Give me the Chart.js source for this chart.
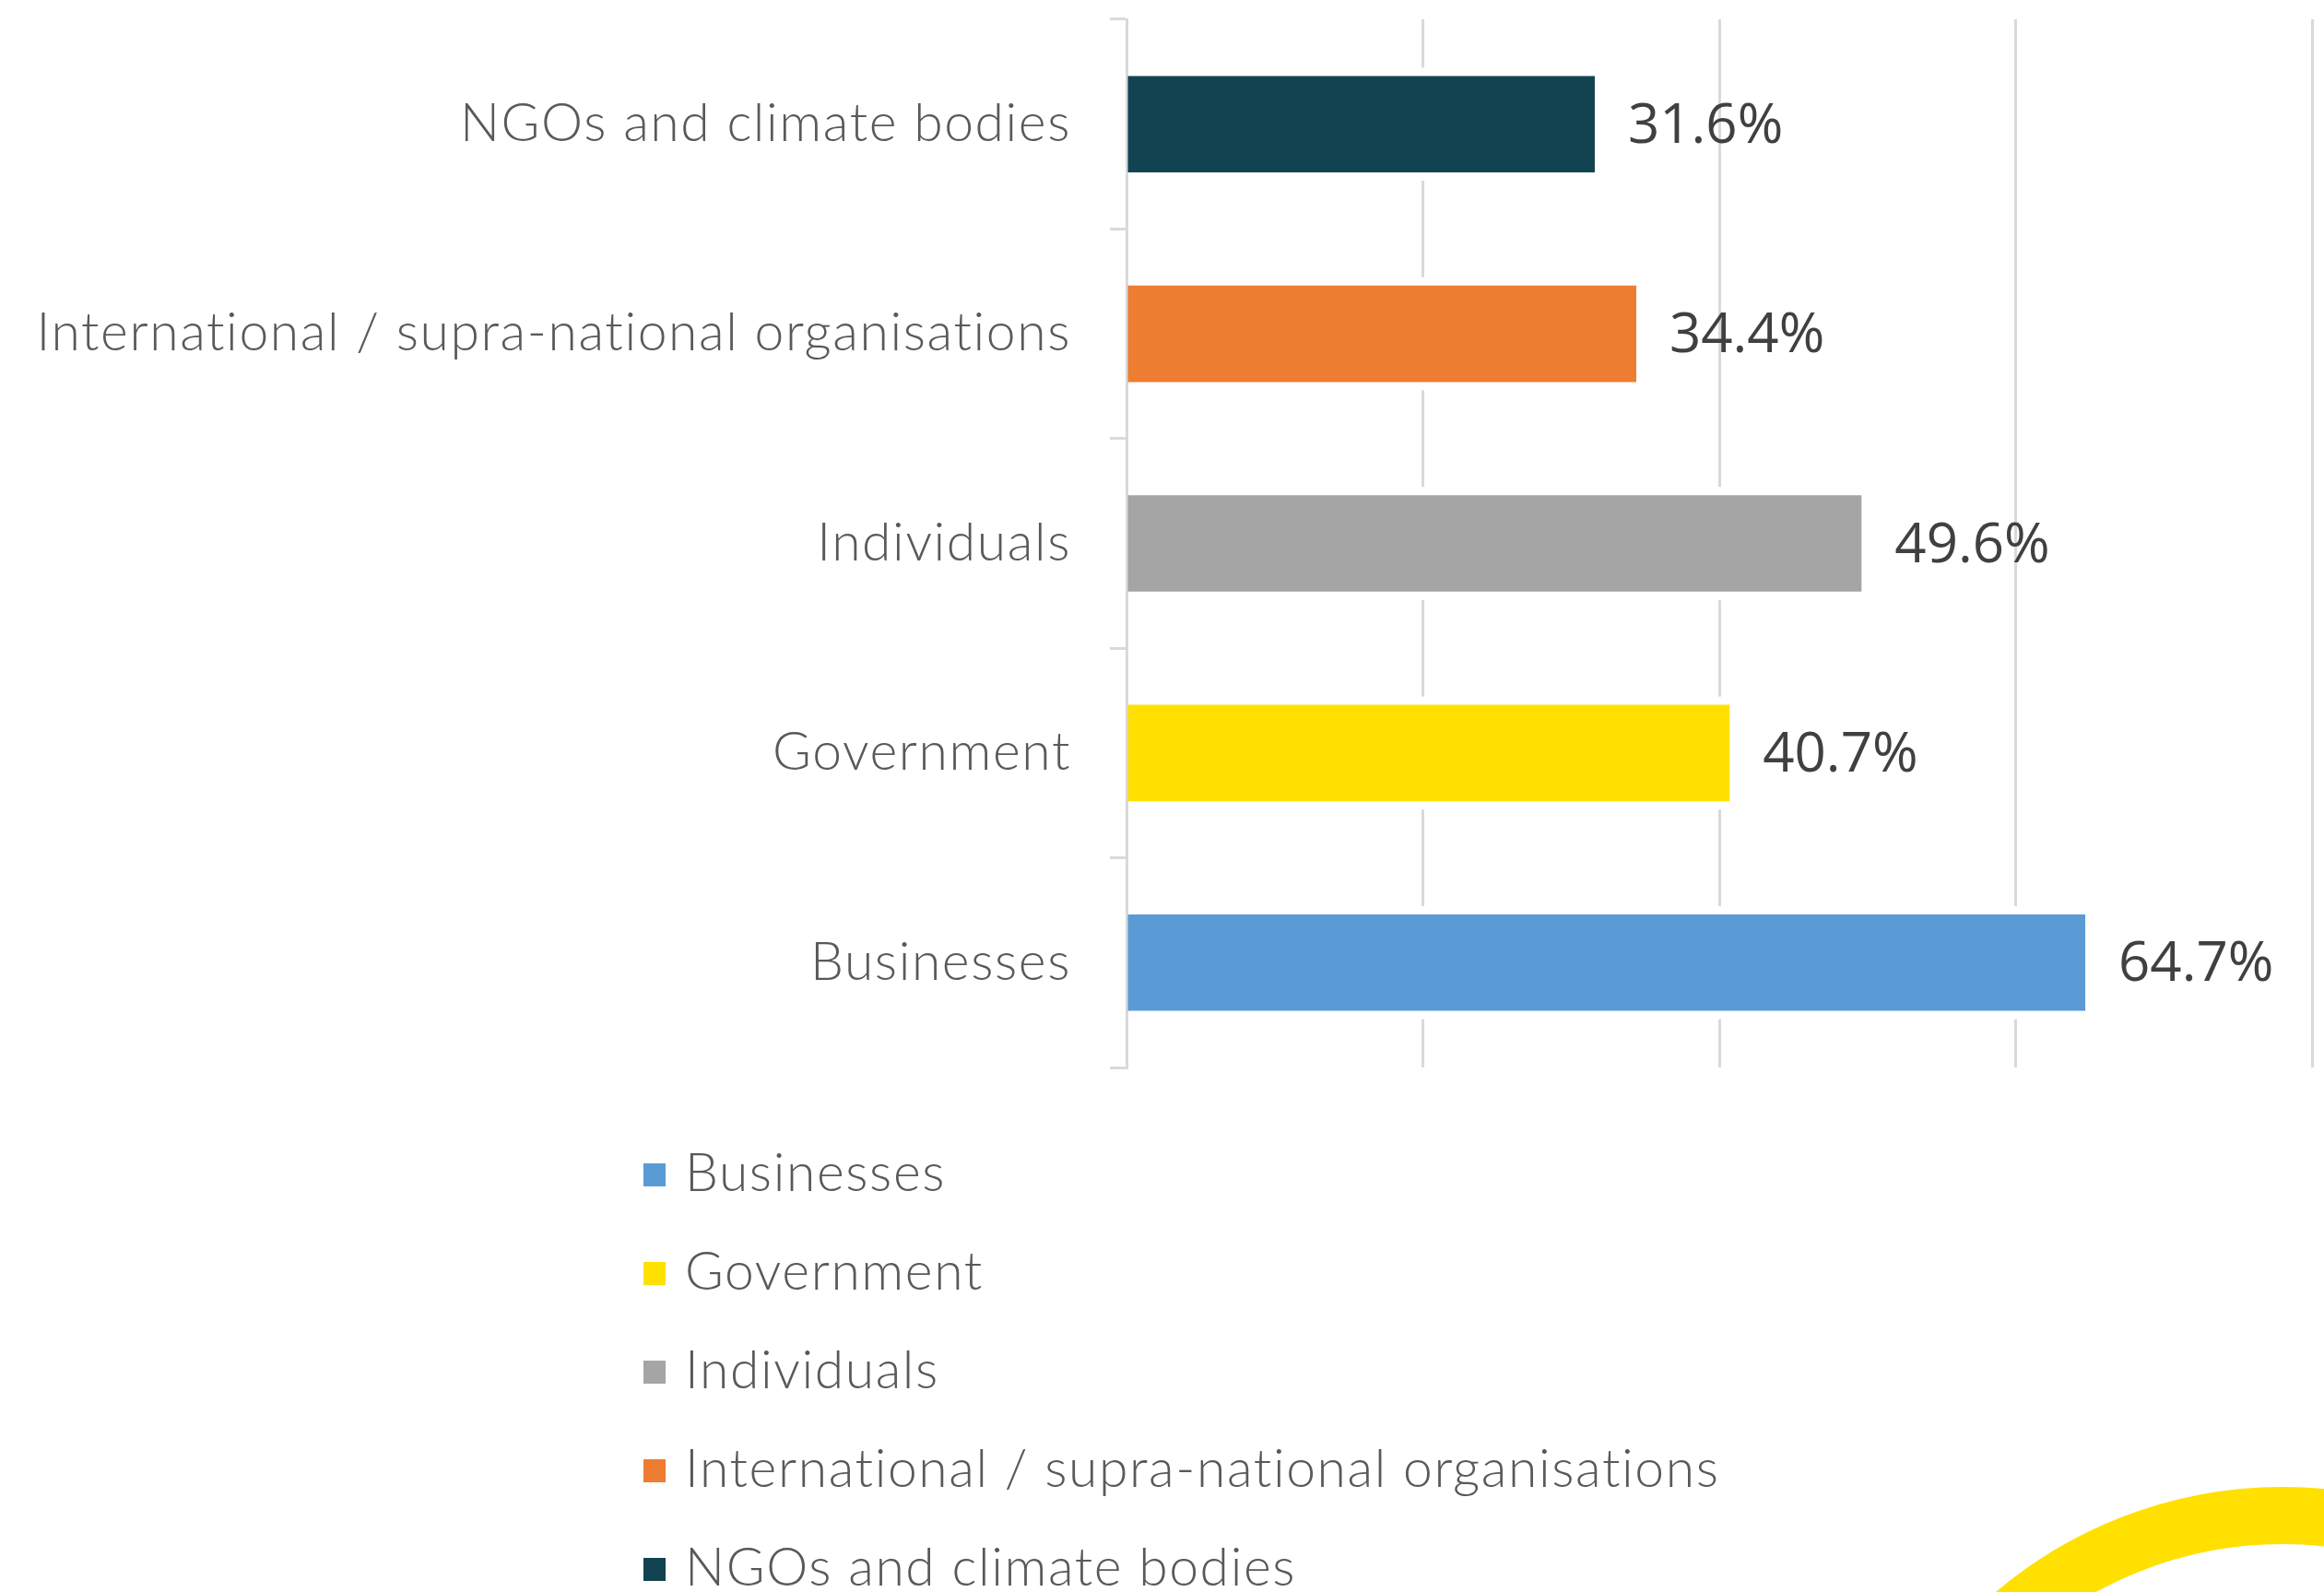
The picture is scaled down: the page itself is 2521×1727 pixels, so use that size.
<!DOCTYPE html>
<html>
<head>
<meta charset="utf-8">
<script src="https://cdn.jsdelivr.net/npm/chart.js@4.4.0/dist/chart.umd.min.js"></script>
<style>
  html, body { margin: 0; padding: 0; background: #fff; }
  #wrap { position: relative; width: 2521px; height: 1727px; overflow: hidden; }
  #chart { position: absolute; left: 0; top: 0; }
  #legend { position: absolute; left: 698px; top: 1221px; font-family: Lato, sans-serif; font-weight: 300; font-size: 57px; letter-spacing: 1.6px; font-variant-ligatures: none; color: #595959; }
  #legend .item { height: 107px; display: flex; align-items: center; }
  #legend .box { width: 24px; height: 25px; margin-right: 21px; flex: none; }
  #legend .txt { line-height: 1; position: relative; top: -4px; white-space: nowrap; }
</style>
</head>
<body>
<div id="wrap">
  <canvas id="chart" width="2521" height="1727"></canvas>
  <div id="legend"></div>
</div>
<script>
// data
const categories = ['Businesses', 'Government', 'Individuals', 'International / supra-national organisations', 'NGOs and climate bodies'];
const values = [64.7, 40.7, 49.6, 34.4, 31.6];
const colors = ['#5B9BD5', '#FFE000', '#A5A5A5', '#ED7D31', '#124350'];
const xTicks = [0, 20, 40, 60, 80];

// one dataset per category so the legend lists each of them
const datasets = categories.map((name, i) => ({
  label: name,
  data: categories.map((_, j) => (j === i ? values[i] : null)),
  backgroundColor: colors[i],
  borderWidth: 0,
  categoryPercentage: 1,
  barPercentage: 0.46
}));

// category labels are a bit wider-set than Lato
const labelSpacing = {
  id: 'labelSpacing',
  beforeDraw(chart) { chart.ctx.letterSpacing = '1.6px'; },
  beforeDatasetsDraw(chart) { chart.ctx.letterSpacing = '0px'; }
};

// white halo behind the bars (gridlines stop short of them)
const barHalo = {
  id: 'barHalo',
  beforeDatasetsDraw(chart) {
    const ctx = chart.ctx;
    ctx.save();
    ctx.fillStyle = '#ffffff';
    chart.data.datasets.forEach((ds, i) => {
      chart.getDatasetMeta(i).data.forEach((bar, j) => {
        if (ds.data[j] == null) return;
        const p = bar.getProps(['x', 'y', 'base', 'height'], true);
        ctx.fillRect(p.base + 2, p.y - p.height / 2 - 9, p.x - p.base + 7, p.height + 18);
      });
    });
    ctx.restore();
  }
};

// value labels right of each bar
const valueLabels = {
  id: 'valueLabels',
  afterDatasetsDraw(chart) {
    const ctx = chart.ctx;
    ctx.save();
    ctx.font = '60px "Open Sans"';
    ctx.fillStyle = '#404040';
    ctx.textAlign = 'left';
    ctx.textBaseline = 'middle';
    chart.data.datasets.forEach((ds, i) => {
      chart.getDatasetMeta(i).data.forEach((bar, j) => {
        const v = ds.data[j];
        if (v == null) return;
        ctx.fillText(v.toFixed(1) + '%', bar.x + 36, bar.y + 3);
      });
    });
    ctx.restore();
  }
};

// yellow ring in the corner
const cornerRing = {
  id: 'cornerRing',
  afterDraw(chart) {
    const ctx = chart.ctx;
    ctx.save();
    ctx.beginPath();
    ctx.arc(2476, 2094, 450, 0, Math.PI * 2);
    ctx.lineWidth = 62;
    ctx.strokeStyle = '#FFE000';
    ctx.stroke();
    ctx.restore();
  }
};

// vertical legend in html, built from the chart's own legend items
const htmlLegend = {
  id: 'htmlLegend',
  afterUpdate(chart) {
    const box = document.getElementById('legend');
    box.innerHTML = '';
    const items = chart.options.plugins.legend.labels.generateLabels(chart);
    items.forEach(item => {
      const row = document.createElement('div');
      row.className = 'item';
      const sw = document.createElement('span');
      sw.className = 'box';
      sw.style.background = item.fillStyle;
      const txt = document.createElement('span');
      txt.className = 'txt';
      txt.textContent = item.text;
      row.appendChild(sw);
      row.appendChild(txt);
      box.appendChild(row);
    });
  }
};

new Chart(document.getElementById('chart'), {
  type: 'bar',
  data: { labels: categories, datasets: datasets },
  plugins: [labelSpacing, barHalo, valueLabels, cornerRing, htmlLegend],
  options: {
    indexAxis: 'y',
    responsive: false,
    animation: false,
    devicePixelRatio: 1,
    layout: { padding: { top: 21, right: 13, bottom: 569, left: 0 } },
    plugins: {
      legend: { display: false },
      tooltip: { enabled: false }
    },
    scales: {
      x: {
        type: 'linear',
        min: xTicks[0],
        max: xTicks[xTicks.length - 1],
        stacked: true,
        afterBuildTicks: s => { s.ticks = xTicks.map(v => ({ value: v })); },
        ticks: { display: false },
        grid: { color: '#d9d9d9', lineWidth: 3, drawTicks: false },
        border: { display: false }
      },
      y: {
        type: 'category',
        reverse: true,
        stacked: true,
        grid: { offset: true, drawOnChartArea: false, drawTicks: true, tickLength: 18, color: '#d9d9d9', lineWidth: 3 },
        border: { display: true, color: '#d9d9d9', width: 3 },
        ticks: {
          color: '#595959',
          padding: 42,
          font: { family: 'Lato', size: 57, weight: 300 }
        },
        afterFit: s => {
          s.width = 1222;
          s.paddingTop = 0;
          s.paddingBottom = 0;
        }
      }
    }
  }
});
</script>
</body>
</html>
